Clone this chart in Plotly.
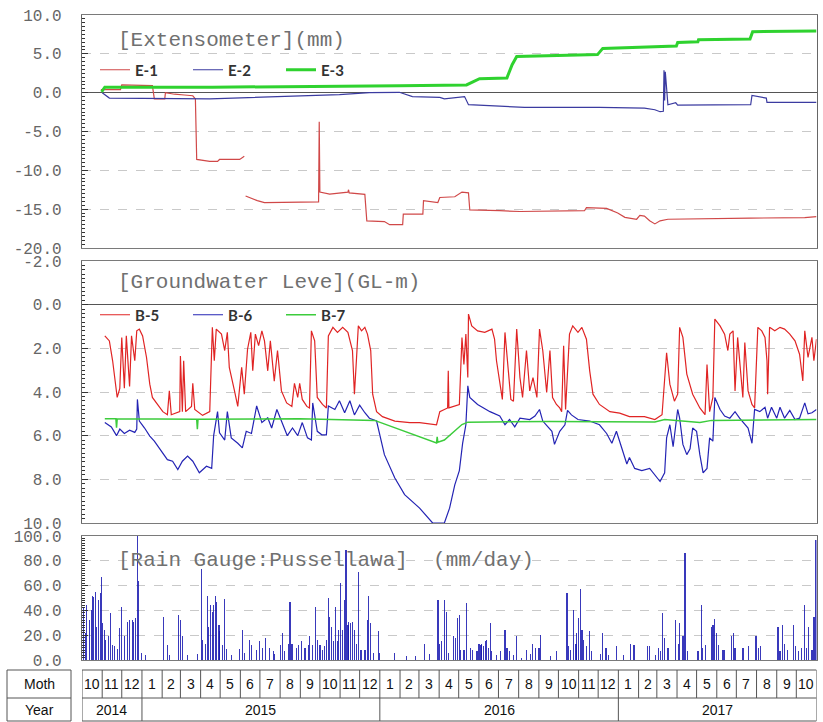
import pandas as pd
import plotly.graph_objects as go

START = pd.Timestamp("2014-10-01")
END = pd.Timestamp("2017-11-01")

# ---------------- data (day index = days since 2014-10-01) ----------------
e1_day = [29, 59, 61, 108, 111, 127, 128, 142, 157, 170, 174, 176, 196, 208, 211, 242, 249, 250, 251, 269,
          280, 363, 364, 365, 380, 408, 409, 410, 434, 437, 464, 472, 492, 493, 523, 524, 546, 549, 572, 583,
          593, 595, 641, 672, 771, 774, 805, 822, 833, 851, 856, 863, 871, 879, 887, 899, 1025, 1109, 1127]
e1_val = [0.4, 0.4, 1.0, 0.9, -0.8, -0.8, 0.0, -0.2, -0.3, -0.4, -0.8, -8.6, -8.85, -8.85, -8.6, -8.6, -8.2, None, -13.3, -13.9,
          -14.15, -14.05, -3.75, -12.8, -13.05, -12.8, -12.5, -12.9, -13.1, -16.5, -16.6, -17.0, -17.0, -15.65, -15.65, -13.9, -14.15, -13.5, -13.4, -12.8,
          -12.9, -15.1, -15.2, -15.3, -15.2, -14.8, -14.9, -15.5, -16.05, -16.3, -15.8, -15.9, -16.5, -16.9, -16.5, -16.3, -16.15, -16.1, -15.95]

e2_day = [31, 42, 196, 303, 395, 441, 487, 507, 549, 556, 587, 593, 633, 679, 794, 863, 879, 887, 892, 893,
          894, 895, 899, 911, 914, 973, 1026, 1028, 1050, 1051, 1127]
e2_val = [0.0, -0.7, -0.8, -0.5, -0.25, 0.0, 0.05, -0.5, -0.6, -0.8, -0.5, -1.55, -1.75, -1.9, -1.9, -2.0, -2.2, -2.45, -2.4, 2.9,
          -1.0, 2.7, -1.55, -1.3, -1.6, -1.55, -1.55, -0.35, -0.7, -1.25, -1.25]

e3_day = [30, 35, 200, 400, 487, 590, 610, 652, 660, 667, 791, 799, 912, 914, 945, 946, 1025, 1029, 1127]
e3_val = [0.1, 0.7, 0.7, 0.8, 0.9, 1.0, 1.8, 1.9, 3.6, 4.65, 4.9, 5.7, 6.0, 6.45, 6.55, 6.8, 6.9, 7.85, 7.95]

b5_day = [35, 42, 47, 51, 54, 58, 61, 65, 68, 73, 76, 81, 84, 88, 93, 99, 104, 108, 114, 119,
          124, 131, 134, 137, 150, 151, 154, 156, 159, 168, 170, 173, 185, 196, 200, 203, 206, 214, 219, 223,
          226, 234, 239, 245, 249, 254, 259, 262, 266, 271, 276, 280, 285, 289, 295, 300, 306, 314, 322, 326,
          331, 334, 338, 345, 349, 352, 357, 361, 369, 375, 378, 385, 392, 400, 408, 415, 418, 421, 424, 429,
          434, 438, 443, 446, 452, 461, 480, 503, 518, 544, 549, 561, 562, 563, 579, 583, 586, 589, 592, 593,
          598, 607, 618, 629, 633, 636, 641, 645, 649, 653, 658, 662, 667, 672, 676, 682, 687, 692, 698, 702,
          707, 713, 718, 722, 728, 733, 736, 739, 742, 748, 753, 761, 767, 774, 779, 784, 794, 810, 825, 840,
          863, 879, 890, 897, 902, 909, 914, 917, 922, 928, 937, 948, 956, 959, 963, 968, 971, 979, 986, 991,
          994, 999, 1002, 1006, 1009, 1014, 1017, 1022, 1028, 1032, 1037, 1043, 1048, 1051, 1052, 1055, 1063, 1071, 1078, 1086,
          1094, 1101, 1106, 1109, 1114, 1120, 1123, 1127]
b5_val = [1.43, 1.66, 2.57, 3.7, 4.25, 3.83, 1.5, 3.83, 1.43, 3.75, 1.43, 2.57, 1.2, 1.12, 1.43, 2.42, 3.64, 4.25, 4.5, 4.73,
          4.9, 5.04, 3.95, 5.04, 4.9, 2.35, 4.9, 2.57, 4.9, 4.66, 3.6, 4.8, 5.07, 4.9, 1.04, 2.57, 1.12, 1.35, 2.1, 1.27,
          2.87, 3.95, 4.66, 2.87, 4.1, 2.04, 1.27, 3.03, 1.35, 1.88, 1.2, 1.66, 3.03, 1.66, 3.5, 2.1, 3.95, 4.5, 4.66, 3.6,
          4.25, 3.6, 4.34, 4.66, 4.73, 1.2, 1.66, 4.25, 4.57, 4.73, 1.43, 1.04, 1.27, 1.04, 1.27, 2.1, 4.1, 2.57, 0.97, 1.2,
          1.04, 1.35, 2.1, 4.1, 4.9, 5.13, 5.33, 5.4, 5.4, 5.5, 4.9, 4.73, 3.03, 4.73, 4.57, 1.5, 2.74, 1.35, 3.34, 0.43,
          0.97, 1.2, 1.27, 1.12, 1.58, 2.57, 3.64, 4.34, 1.27, 2.57, 4.34, 4.42, 1.12, 3.34, 4.25, 2.1, 3.95, 3.34, 4.25, 1.12,
          2.1, 4.02, 2.1, 4.25, 4.57, 4.73, 4.9, 1.88, 4.8, 1.35, 0.97, 1.27, 1.04, 1.58, 3.03, 4.1, 4.57, 4.9, 4.97, 5.13,
          5.13, 5.26, 5.04, 2.2, 3.64, 4.42, 4.1, 1.04, 1.5, 3.18, 4.1, 4.73, 5.04, 2.74, 4.9, 4.25, 0.66, 0.97, 1.35, 2.1,
          1.35, 1.2, 3.95, 1.5, 2.42, 4.25, 1.73, 3.95, 4.57, 4.73, 1.04, 1.2, 1.5, 2.57, 4.1, 1.04, 1.2, 1.04, 1.12, 1.35,
          1.66, 2.27, 3.49, 1.2, 2.42, 1.5, 2.57, 1.58]

b6_day = [35, 45, 53, 58, 65, 73, 81, 84, 85, 88, 96, 104, 111, 122, 131, 139, 147, 154, 162, 170,
          180, 191, 199, 202, 208, 211, 219, 223, 229, 239, 246, 252, 260, 268, 276, 285, 291, 299, 306, 315,
          323, 331, 338, 346, 352, 354, 361, 368, 375, 378, 388, 395, 403, 411, 418, 426, 434, 441, 452, 464,
          480, 495, 518, 538, 556, 564, 572, 579, 584, 589, 592, 595, 607, 626, 641, 649, 656, 664, 672, 687,
          695, 702, 707, 715, 721, 725, 733, 741, 745, 751, 761, 779, 794, 805, 813, 820, 828, 836, 840, 848,
          859, 871, 887, 894, 897, 902, 907, 914, 917, 922, 928, 933, 937, 943, 948, 953, 959, 963, 968, 971,
          979, 986, 994, 1002, 1009, 1017, 1022, 1028, 1032, 1040, 1048, 1052, 1058, 1066, 1071, 1078, 1086, 1094, 1101, 1109,
          1114, 1120, 1127]
b6_val = [5.4, 5.6, 6.0, 5.7, 5.9, 5.75, 5.85, 5.7, 4.34, 5.33, 5.65, 6.02, 6.25, 6.7, 7.1, 7.17, 7.55, 7.17, 6.94, 7.17,
          7.7, 7.4, 7.5, 6.0, 4.9, 5.87, 6.2, 4.9, 6.1, 6.35, 6.56, 5.8, 5.9, 4.64, 5.4, 5.18, 5.65, 4.8, 5.33, 6.0,
          5.65, 6.0, 5.4, 6.1, 6.2, 4.5, 5.8, 5.96, 5.96, 4.64, 4.8, 4.4, 4.95, 4.4, 5.05, 4.6, 4.95, 5.2, 5.33, 6.87,
          7.94, 8.7, 9.32, 10.0, 10.0, 9.32, 8.25, 7.6, 6.35, 5.5, 3.72, 4.25, 4.57, 4.9, 5.1, 5.5, 5.26, 5.6, 5.2, 5.26,
          5.1, 4.8, 5.33, 5.6, 5.8, 6.4, 5.8, 5.5, 4.84, 5.05, 5.26, 5.33, 5.5, 5.9, 6.35, 5.8, 6.5, 7.3, 7.0, 7.5,
          7.6, 7.5, 8.1, 7.7, 6.1, 5.5, 6.5, 4.8, 5.2, 6.4, 6.87, 6.6, 5.65, 5.8, 6.87, 7.7, 7.5, 6.1, 6.25, 4.25,
          4.8, 5.1, 5.2, 4.9, 5.2, 5.5, 5.65, 6.35, 4.8, 4.9, 4.7, 5.2, 4.7, 5.2, 4.7, 5.2, 4.84, 5.26, 5.2, 4.5,
          5.0, 4.95, 4.8]

b7_day = [35, 52, 53, 54, 176, 177, 178, 334, 449, 544, 545, 546, 556, 572, 583, 592, 718, 879, 894, 948, 966, 1127]
b7_val = [5.23, 5.23, 5.64, 5.23, 5.25, 5.7, 5.25, 5.22, 5.3, 6.33, 6.05, 6.3, 6.2, 5.8, 5.49, 5.38, 5.35, 5.37, 5.26, 5.4, 5.3, 5.26]

rain_day = [2, 5, 7, 12, 15, 16, 18, 21, 22, 25, 28, 30, 31, 35, 36, 41, 44, 47, 50, 54,
            58, 61, 65, 70, 73, 78, 79, 82, 85, 87, 91, 97, 125, 131, 134, 148, 151, 154, 162, 177,
            183, 185, 190, 193, 194, 197, 200, 202, 205, 206, 210, 211, 216, 219, 222, 229, 242, 246, 249, 257,
            260, 268, 272, 277,
            282, 288, 294, 295, 305, 308, 311, 317, 319, 322, 329, 332, 337, 342, 348, 349, 354, 358, 361, 365,
            369, 372, 375, 378, 380, 383, 386, 389, 392, 394, 397, 400, 403, 405, 408, 409, 412, 415, 418, 421,
            424, 428, 434, 438, 440, 443, 447, 455, 457, 480, 498, 512, 526, 533, 546, 549, 552, 556,
            559, 562, 570, 573, 576, 579, 581, 586, 590, 596, 599, 606, 609, 612, 613, 616, 619, 621, 624, 627,
            628, 636, 642, 649, 652, 656, 662, 667, 674, 682, 688, 691, 696, 701, 704, 719, 728, 744, 747, 750,
            754, 758, 759, 762, 765, 767, 770, 774, 779, 782, 796, 799, 804, 808, 820, 831,
            842, 847, 868, 871, 880, 885, 888, 891, 894, 899, 911, 915, 917, 922, 925, 929, 945, 951, 952, 957,
            966, 968, 971, 974, 977, 983, 985, 997, 1000, 1002, 1014, 1023, 1034, 1038, 1041, 1068, 1071, 1075, 1078, 1083,
            1092, 1095, 1099, 1104, 1109, 1112, 1115, 1120, 1123, 1126]
rain_val = [43, 22, 44, 32, 40, 52, 51, 55, 27, 48, 54, 67, 30, 24, 16, 19, 38, 12, 11, 9,
            26, 43, 19, 31, 32, 32, 31, 34, 103, 64, 6, 4, 35, 12, 4, 36, 32, 19, 4, 5,
            73, 16, 13, 52, 27, 44, 39, 44, 52, 47, 28, 23, 12, 49, 9, 4, 9, 24, 6, 16,
            12, 8, 15, 10,
            18, 10, 7, 5, 12, 22, 7, 13, 47, 13, 10, 12, 15, 10, 12, 19, 12, 43, 16, 12,
            8, 11, 16, 50, 35, 27, 15, 43, 15, 24, 62, 24, 48, 89, 28, 31, 30, 31, 24, 13,
            71, 8, 8, 32, 52, 30, 6, 23, 6, 6, 3, 3, 13, 5, 48, 13, 15, 48,
            39, 6, 19, 18, 34, 36, 8, 8, 46, 10, 8, 7, 13, 12, 13, 11, 15, 16, 10, 30,
            7, 4, 7, 24, 10, 7, 4, 19, 2, 8, 5, 13, 10, 10, 20, 3, 7, 54, 11, 8,
            40, 13, 22, 34, 57, 24, 16, 11, 23, 7, 5, 22, 10, 4, 11, 4,
            13, 12, 11, 11, 4, 10, 7, 38, 18, 10, 32, 13, 30, 19, 86, 7, 7, 44, 10, 12,
            27, 28, 33, 22, 12, 8, 8, 19, 22, 10, 10, 11, 19, 10, 11, 27, 7, 28, 13, 8,
            28, 11, 7, 10, 44, 10, 27, 8, 35, 97]

# tick labels
ext_ticks = [10, 5, 0, -5, -10, -15, -20]
ext_text = ["10.0", "5.0", "0.0", "-5.0", "-10.0", "-15.0", "-20.0"]
gw_ticks = [-2, 0, 2, 4, 6, 8, 10]
gw_text = ["-2.0", "0.0", "2.0", "4.0", "6.0", "8.0", "10.0"]
rain_ticks = [0, 20, 40, 60, 80, 100]
rain_text = ["0.0", "20.0", "40.0", "60.0", "80.0", "100.0"]

# table
month_labels = [10, 11, 12] + list(range(1, 13)) * 2 + list(range(1, 11))
year_labels = ["2014", "2015", "2016", "2017"]
year_starts = ["2014-10-01", "2015-01-01", "2016-01-01", "2017-01-01", "2017-11-01"]

for a, b in [(e1_day, e1_val), (e2_day, e2_val), (e3_day, e3_val), (b5_day, b5_val),
             (b6_day, b6_val), (b7_day, b7_val), (rain_day, rain_val)]:
    assert len(a) == len(b), (len(a), len(b))


def to_dates(days):
    return [START + pd.Timedelta(days=d) for d in days]


W, H = 823, 722


def px_x(p):
    return p / W


def px_y(p):
    return 1 - p / H


fig = go.Figure()
fig.add_trace(go.Scatter(x=to_dates(e1_day), y=e1_val, mode="lines", name="E-1",
                         line=dict(color="#d04848", width=1.2), xaxis="x", yaxis="y", legend="legend"))
fig.add_trace(go.Scatter(x=to_dates(e2_day), y=e2_val, mode="lines", name="E-2",
                         line=dict(color="#3b3ba0", width=1.2), xaxis="x", yaxis="y", legend="legend"))
fig.add_trace(go.Scatter(x=to_dates(e3_day), y=e3_val, mode="lines", name="E-3",
                         line=dict(color="#2fd22f", width=3), xaxis="x", yaxis="y", legend="legend"))

fig.add_trace(go.Scatter(x=to_dates(b5_day), y=b5_val, mode="lines", name="B-5",
                         line=dict(color="#e02424", width=1.2), xaxis="x2", yaxis="y2", legend="legend2"))
fig.add_trace(go.Scatter(x=to_dates(b6_day), y=b6_val, mode="lines", name="B-6",
                         line=dict(color="#2424b4", width=1.2), xaxis="x2", yaxis="y2", legend="legend2"))
fig.add_trace(go.Scatter(x=to_dates(b7_day), y=b7_val, mode="lines", name="B-7",
                         line=dict(color="#3ccc3c", width=1.5), xaxis="x2", yaxis="y2", legend="legend2"))

fig.add_trace(go.Bar(x=to_dates(rain_day), y=rain_val, name="Rain", showlegend=False,
                     marker=dict(color="rgba(22,22,175,0.85)", line=dict(width=0)),
                     width=86400000 * 2.0, xaxis="x3", yaxis="y3"))

XDOM = [px_x(82), px_x(816.5)]
tick_font = dict(family="Liberation Mono", size=16, color="#666666")


def xax(anchor):
    return dict(type="date", range=[START, END], domain=XDOM, anchor=anchor, automargin=False,
                showticklabels=False, ticks="", showgrid=False, zeroline=False,
                showline=True, mirror=True, linecolor="#7a7a7a", linewidth=1)


def yax(anchor, dom, rng, tv, tt, minor_dtick, zeroline):
    return dict(domain=dom, range=rng, anchor=anchor, automargin=False,
                tickmode="array", tickvals=tv, ticktext=tt,
                ticks="inside", ticklen=6, tickcolor="#333333", tickwidth=1,
                minor=dict(tickmode="linear", tick0=0, dtick=minor_dtick, ticks="inside",
                           ticklen=3, tickcolor="#333333", showgrid=False),
                showgrid=True, gridcolor="#c9c9c9", griddash="dash", gridwidth=1,
                zeroline=zeroline, zerolinecolor="#555555", zerolinewidth=1,
                showline=True, mirror=True, linecolor="#666666", linewidth=1.3,
                tickfont=tick_font, ticklabelstandoff=16)


legend_font = dict(family="Lato", size=15, color="#333333", weight="bold")
layout = dict(
    template="none",
    width=W, height=H, margin=dict(l=0, r=0, t=0, b=0, pad=0), autosize=False,
    paper_bgcolor="white", plot_bgcolor="white", bargap=0,
    xaxis=xax("y"), xaxis2=xax("y2"), xaxis3=xax("y3"),
    yaxis=yax("x", [px_y(248), px_y(15)], [-20, 10], ext_ticks, ext_text, 0.5, True),
    yaxis2=yax("x2", [px_y(523), px_y(261)], [10, -2], gw_ticks, gw_text, 0.2, True),
    yaxis3=yax("x3", [px_y(660), px_y(536)], [0, 100], rain_ticks, rain_text, 2, False),
    legend=dict(x=px_x(95), y=px_y(70), xanchor="left", yanchor="middle", orientation="h",
                bgcolor="rgba(0,0,0,0)", font=legend_font, borderwidth=0,
                itemwidth=30, entrywidth=48, tracegroupgap=0),
    legend2=dict(x=px_x(95), y=px_y(315), xanchor="left", yanchor="middle", orientation="h",
                 bgcolor="rgba(0,0,0,0)", font=legend_font, borderwidth=0,
                 itemwidth=30, entrywidth=48, tracegroupgap=0),
    showlegend=True,
)
fig.update_layout(**layout)

title_font = dict(family="Liberation Mono", size=21, color="#707070")
titles = [("[Extensometer](mm)", 40), ("[Groundwater Leve](GL-m)", 283),
          ("[Rain Gauge:Pussellawa]  (mm/day)", 560)]
for txt, ypx in titles:
    fig.add_annotation(text=txt, xref="paper", yref="paper", x=px_x(116), y=px_y(ypx),
                       xanchor="left", yanchor="middle", showarrow=False, font=title_font)

# ---------------- month / year table ----------------
line_style = dict(color="#555555", width=1)
row_top, row_mid, row_bot = px_y(670), px_y(698), px_y(721)
month_starts = pd.date_range(START, END, freq="MS")
for d in month_starts:
    fig.add_shape(type="line", xref="x3", yref="paper", x0=d, x1=d, y0=row_top, y1=row_mid, line=line_style)
for d in year_starts:
    fig.add_shape(type="line", xref="x3", yref="paper", x0=d, x1=d, y0=row_mid, y1=row_bot, line=line_style)
for yy in (row_top, row_mid, row_bot):
    fig.add_shape(type="line", xref="x3", yref="paper", x0=START, x1=END, y0=yy, y1=yy, line=line_style)

cell_font = dict(family="Liberation Sans", size=14, color="#111111")
for d, m in zip(month_starts[:-1], month_labels):
    mid = d + (d + pd.offsets.MonthBegin(1) - d) / 2
    fig.add_annotation(text=str(m), xref="x3", yref="paper", x=mid, y=(row_top + row_mid) / 2,
                       showarrow=False, font=cell_font, xanchor="center", yanchor="middle")
for i, yl in enumerate(year_labels):
    a, b = pd.Timestamp(year_starts[i]), pd.Timestamp(year_starts[i + 1])
    fig.add_annotation(text=yl, xref="x3", yref="paper", x=a + (b - a) / 2, y=(row_mid + row_bot) / 2,
                       showarrow=False, font=cell_font, xanchor="center", yanchor="middle")

# left header cells
fig.add_shape(type="rect", xref="paper", yref="paper", x0=px_x(7), x1=px_x(71), y0=row_bot, y1=row_top,
              line=line_style)
fig.add_shape(type="line", xref="paper", yref="paper", x0=px_x(7), x1=px_x(71), y0=row_mid, y1=row_mid,
              line=line_style)
fig.add_annotation(text="Moth", xref="paper", yref="paper", x=px_x(39), y=(row_top + row_mid) / 2,
                   xanchor="center", yanchor="middle", showarrow=False, font=cell_font)
fig.add_annotation(text="Year", xref="paper", yref="paper", x=px_x(39), y=(row_mid + row_bot) / 2,
                   xanchor="center", yanchor="middle", showarrow=False, font=cell_font)

fig.write_html("out.html", config={"displayModeBar": False},
               post_script="document.body.style.margin='0px';")
